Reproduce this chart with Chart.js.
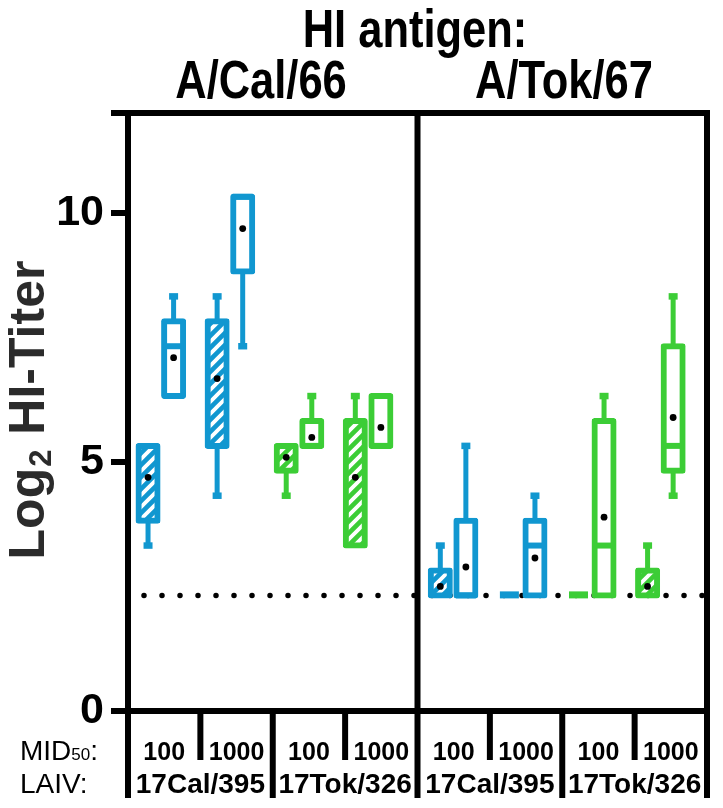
<!DOCTYPE html>
<html>
<head>
<meta charset="utf-8">
<script src="https://cdn.jsdelivr.net/npm/chart.js@4.4.1/dist/chart.umd.min.js"></script>
<style>
  html, body { margin: 0; padding: 0; background: #fff; }
  canvas { display: block; }
</style>
</head>
<body>
<canvas id="c" width="723" height="808"></canvas>
<script>
// ---------------- DATA ----------------
const chartTitle = 'HI antigen:';
const antigens = ['A/Cal/66', 'A/Tok/67'];
const laivStrains = ['17Cal/395', '17Tok/326'];
const doses = ['100', '1000'];
const seriesKinds = ['hatched', 'open'];
const yTitleMain = 'Log';
const yTitleSub = '2';
const yTitleRest = ' HI-Titer';
const yTickValues = [0, 5, 10, 12];
const yTickLabels = ['0', '5', '10', ''];
const yMax = 12;
const detectionLimit = 2.32;

// 16 boxes: antigen -> LAIV strain -> dose -> series (hatched, open)
const whiskerMin = [3.32, 6.32, 4.32, 7.32, 4.32, 5.32, 3.32, 5.32, 2.32, 2.32, 2.32, 2.32, 2.32, 2.32, 2.32, 4.32];
const q1         = [3.82, 6.32, 5.32, 8.82, 4.82, 5.32, 3.32, 5.32, 2.32, 2.32, 2.32, 2.32, 2.32, 2.32, 2.32, 4.82];
const median     = [null, 7.32, null, 10.32, null, 5.32, null, 5.32, null, 2.32, null, 3.32, null, 3.32, null, 5.32];
const q3         = [5.32, 7.82, 7.82, 10.32, 5.32, 5.82, 5.82, 6.32, 2.82, 3.82, 2.32, 3.82, 2.32, 5.82, 2.82, 7.32];
const whiskerMax = [5.32, 8.32, 8.32, 10.32, 5.32, 6.32, 6.32, 6.32, 3.32, 5.32, 2.32, 4.32, 2.32, 6.32, 3.32, 8.32];
const mean       = [4.69, 7.09, 6.67, 9.68, 5.09, 5.49, 4.69, 5.69, 2.50, 2.89, null, 3.07, null, 3.89, 2.50, 5.89];

// ---------------- LAYOUT / STYLE ----------------
const X_MIN = -0.29, X_MAX = 8.09, PANEL_SHIFT = 4.23, PAIR_GAP = 0.37;
const strainColors = ['#1197D0', '#3CCD36'];
const LINE_W = 6;

const canvas = document.getElementById('c');
const mainCtx = canvas.getContext('2d');

function hatchPattern(color) {
  const s = 12;
  const c = document.createElement('canvas');
  c.width = s; c.height = s;
  const g = c.getContext('2d');
  g.fillStyle = color; g.fillRect(0, 0, s, s);
  g.strokeStyle = '#fff'; g.lineWidth = 3.8;
  g.beginPath();
  g.moveTo(-2, s + 2); g.lineTo(s + 2, -2);
  g.moveTo(-2, 2); g.lineTo(2, -2);
  g.moveTo(s - 2, s + 2); g.lineTo(s + 2, s - 2);
  g.stroke();
  return mainCtx.createPattern(c, 'repeat');
}
const patterns = strainColors.map(hatchPattern);

const idx = whiskerMin.map((_, i) => i);
const info = idx.map(i => ({
  antigen: Math.floor(i / 8),
  strain: Math.floor(i / 4) % 2,
  dose: Math.floor(i / 2) % 2,
  series: i % 2
}));
const xPos = info.map(o => o.antigen * PANEL_SHIFT + (o.strain * 2 + o.dose) + o.series * PAIR_GAP);
const colorOf = info.map(o => strainColors[o.strain]);
const fillOf = info.map(o => seriesKinds[o.series] === 'hatched' ? patterns[o.strain] : '#ffffff');

const isFlat = idx.map(i => q1[i] === q3[i]);
const boxIdx = idx.filter(i => !isFlat[i]);
const flatIdx = idx.filter(i => isFlat[i]);
const boxData = boxIdx.map(i => ({ x: xPos[i], y: [q1[i], q3[i]] }));
const flatData = flatIdx.map(i => ({ x: xPos[i], y: [q1[i], q3[i]] }));
const whiskerData = idx.map(i => ({ x: xPos[i], y: [whiskerMin[i], whiskerMax[i]] }));
const capPts = [], capCols = [];
idx.forEach(i => {
  if (whiskerMax[i] > q3[i]) { capPts.push({ x: xPos[i], y: whiskerMax[i] }); capCols.push(colorOf[i]); }
  if (whiskerMin[i] < q1[i]) { capPts.push({ x: xPos[i], y: whiskerMin[i] }); capCols.push(colorOf[i]); }
});
const medPts = [], medCols = [];
idx.forEach(i => { if (median[i] !== null) { medPts.push({ x: xPos[i], y: median[i] }); medCols.push(colorOf[i]); } });
const meanPts = idx.filter(i => mean[i] !== null).map(i => ({ x: xPos[i], y: mean[i] }));

const SANS = "'Liberation Sans', Arial, Helvetica, sans-serif";
function narrowFont(size) {
  mainCtx.font = `bold ${size}px 'Liberation Sans Narrow', monospace`;
  const a = mainCtx.measureText(chartTitle).width;
  mainCtx.font = `bold ${size}px monospace`;
  const b = mainCtx.measureText(chartTitle).width;
  return Math.abs(a - b) > 0.5;
}
const hasNarrow = narrowFont(49);

function drawNarrowText(ctx, text, x, y, size) {
  ctx.save();
  if (hasNarrow) {
    ctx.font = `bold ${size}px 'Liberation Sans Narrow', 'Arial Narrow', sans-serif`;
    ctx.textAlign = 'center';
    ctx.fillText(text, x, y);
  } else {
    ctx.font = `bold ${size}px ${SANS}`;
    ctx.textAlign = 'center';
    ctx.translate(x, y); ctx.scale(0.82, 1);
    ctx.fillText(text, 0, 0);
  }
  ctx.restore();
}

const framePlugin = {
  id: 'frame',
  afterDraw(chart) {
    const { ctx, chartArea: ca } = chart;
    const cellW = (ca.right - ca.left) / 8;
    ctx.save();
    ctx.strokeStyle = '#000';
    ctx.lineWidth = LINE_W;
    const vline = (px, y0, y1) => { ctx.beginPath(); ctx.moveTo(px, y0); ctx.lineTo(px, y1); ctx.stroke(); };
    const bottomEnd = 798, shortEnd = 760;
    vline(ca.left + 4 * cellW, ca.top - 3, bottomEnd);
    vline(ca.right, ca.top - 3, bottomEnd);
    vline(ca.left, ca.bottom, bottomEnd);
    vline(ca.left + 2 * cellW, ca.bottom, bottomEnd);
    vline(ca.left + 6 * cellW, ca.bottom, bottomEnd);
    [1, 3, 5, 7].forEach(k => vline(ca.left + k * cellW, ca.bottom, shortEnd));

    // titles
    ctx.fillStyle = '#000';
    ctx.textBaseline = 'alphabetic';
    drawNarrowText(ctx, chartTitle, 415, 47, 53);
    drawNarrowText(ctx, antigens[0], 261, 98, 53);
    drawNarrowText(ctx, antigens[1], 564, 98, 53);

    // y-axis title with subscript
    ctx.save();
    ctx.fillStyle = '#2b2b2b';
    const bigF = `bold 50px ${SANS}`, subF = `bold 31px ${SANS}`;
    ctx.font = bigF; const w1 = ctx.measureText(yTitleMain).width;
    ctx.font = subF; const w2 = ctx.measureText(yTitleSub).width;
    ctx.font = bigF; const w3 = ctx.measureText(yTitleRest).width;
    const total = w1 + w2 + 2 + w3;
    ctx.translate(44, 410 + total / 2);
    ctx.rotate(-Math.PI / 2);
    ctx.textAlign = 'left';
    ctx.font = bigF; ctx.fillText(yTitleMain, 0, 0);
    ctx.font = subF; ctx.fillText(yTitleSub, w1 + 1, 7);
    ctx.font = bigF; ctx.fillText(yTitleRest, w1 + w2 + 2, 0);
    ctx.restore();

    // bottom labels
    const row1 = 760, row2 = 793;
    ctx.textAlign = 'left';
    ctx.font = `28px ${SANS}`;
    ctx.fillText('MID', 20, row1);
    let wx = 20 + ctx.measureText('MID').width;
    ctx.font = `17px ${SANS}`;
    ctx.fillText('50', wx, row1);
    wx += ctx.measureText('50').width;
    ctx.font = `28px ${SANS}`;
    ctx.fillText(':', wx, row1);
    ctx.fillText('LAIV:', 20, row2);

    ctx.textAlign = 'center';
    ctx.font = `bold 25px ${SANS}`;
    for (let k = 0; k < 8; k++) {
      ctx.fillText(doses[k % 2], ca.left + (k + 0.5) * cellW, row1);
    }
    ctx.font = `bold 28px ${SANS}`;
    for (let k = 0; k < 4; k++) {
      ctx.fillText(laivStrains[k % 2], ca.left + (2 * k + 1) * cellW, row2);
    }
    ctx.restore();
  }
};

new Chart(canvas, {
  type: 'bar',
  data: {
    datasets: [
      {
        type: 'scatter', label: 'mean', data: meanPts, order: 0,
        pointRadius: 3.4, pointBackgroundColor: '#000', pointBorderWidth: 0, pointHoverRadius: 3.4
      },
      {
        type: 'scatter', label: 'median', data: medPts, order: 1,
        pointStyle: 'line', pointRadius: 10, pointBorderWidth: LINE_W, pointBorderColor: medCols, pointHoverRadius: 10
      },
      {
        type: 'bar', label: 'box', data: boxData, order: 2,
        grouped: false, barThickness: 19,
        backgroundColor: boxIdx.map(i => fillOf[i]), borderColor: boxIdx.map(i => colorOf[i]), borderWidth: LINE_W,
        borderSkipped: false, borderRadius: 3, inflateAmount: 3
      },
      {
        type: 'bar', label: 'flat box', data: flatData, order: 2,
        grouped: false, barThickness: 13, minBarLength: 1,
        backgroundColor: flatIdx.map(i => colorOf[i]), borderWidth: 0, inflateAmount: 3
      },
      {
        type: 'scatter', label: 'caps', data: capPts, order: 3,
        pointStyle: 'line', pointRadius: 4.5, pointBorderWidth: 6.5, pointBorderColor: capCols, pointHoverRadius: 4.5
      },
      {
        type: 'bar', label: 'whisker', data: whiskerData, order: 4,
        grouped: false, barThickness: 5, backgroundColor: colorOf, borderWidth: 0, inflateAmount: 0
      },
      {
        type: 'line', label: 'limit', order: 5,
        data: [{ x: X_MIN, y: detectionLimit }, { x: X_MAX, y: detectionLimit }],
        borderColor: '#000', borderWidth: 5.5, borderDash: [0.001, 18], borderDashOffset: 2,
        borderCapStyle: 'round', pointRadius: 0, fill: false
      }
    ]
  },
  options: {
    responsive: false,
    animation: false,
    devicePixelRatio: 1,
    layout: { padding: { top: 113, right: 11, left: 0, bottom: 0 } },
    plugins: { legend: { display: false }, tooltip: { enabled: false } },
    scales: {
      x: {
        type: 'linear', min: X_MIN, max: X_MAX, offset: false,
        ticks: { display: false },
        grid: { display: false, drawTicks: false, offset: false },
        border: { display: true, color: '#000', width: LINE_W },
        afterFit: s => { s.height = 97; }
      },
      y: {
        type: 'linear', min: 0, max: yMax,
        afterBuildTicks: s => { s.ticks = yTickValues.map(v => ({ value: v })); },
        afterFit: s => { s.width = 128; },
        ticks: {
          callback: v => { const k = yTickValues.indexOf(v); return k >= 0 ? yTickLabels[k] : ''; },
          font: { family: SANS, size: 43, weight: 'bold' },
          color: '#000', padding: 7
        },
        grid: {
          drawOnChartArea: true,
          color: c => (c.tick && c.tick.value === yMax ? '#000' : 'rgba(0,0,0,0)'),
          lineWidth: LINE_W, tickColor: '#000', tickLength: 17, tickWidth: LINE_W, drawTicks: true
        },
        border: { display: true, color: '#000', width: LINE_W }
      }
    }
  },
  plugins: [framePlugin]
});
</script>
</body>
</html>
